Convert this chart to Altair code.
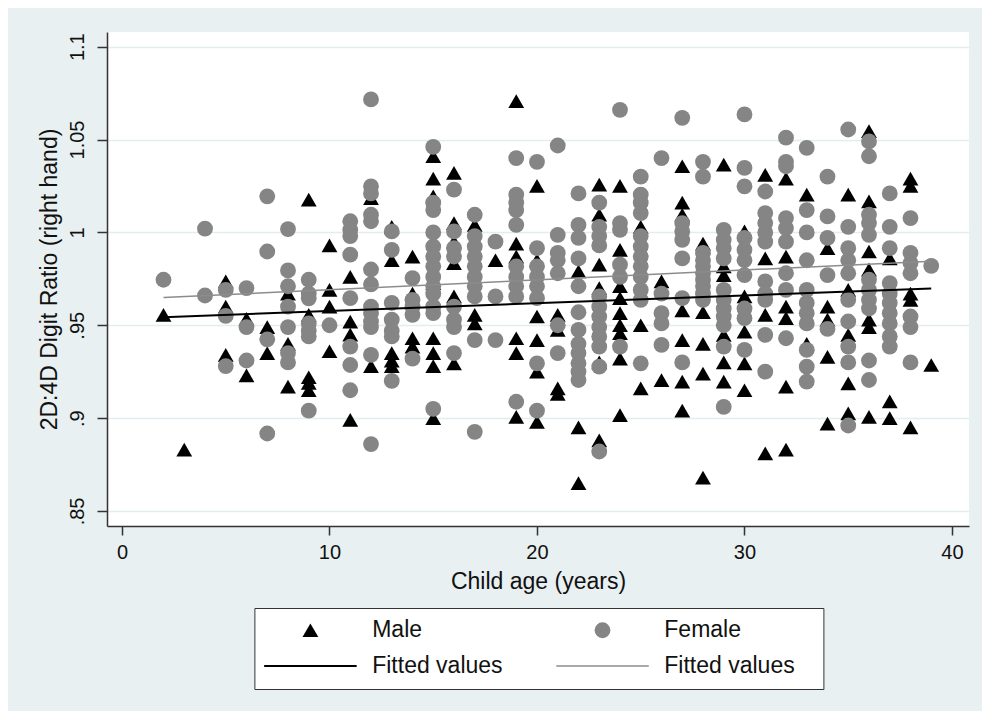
import altair as alt
import pandas as pd

# ---- data: 2D:4D ratio by child age ----
male_by_age = {
    2: [0.9556], 3: [0.883], 5: [0.9736, 0.960, 0.934], 6: [0.9535, 0.923],
    7: [0.949, 0.935], 8: [0.967, 0.940, 0.917],
    9: [1.0176, 0.9556, 0.922, 0.919, 0.915], 10: [0.993, 0.969, 0.960, 0.936],
    11: [0.976, 0.952, 0.945, 0.899], 12: [1.0185, 0.928],
    13: [1.003, 0.985, 0.935, 0.931, 0.928], 14: [0.987, 0.967, 0.943, 0.9385],
    15: [1.041, 1.029, 1.0194, 0.9727, 0.943, 0.935, 0.928, 0.900],
    16: [1.032, 1.005, 0.995, 0.9835, 0.9655, 0.9295], 17: [1.004, 0.9556, 0.951],
    18: [0.985], 19: [1.0707, 0.994, 0.987, 0.943, 0.935, 0.9007],
    20: [1.025, 0.985, 0.9547, 0.942, 0.925, 0.898], 21: [0.9556, 0.9475, 0.916, 0.913],
    22: [0.979, 0.895, 0.865], 23: [1.0257, 1.0095, 0.9826, 0.970, 0.930, 0.888],
    24: [1.025, 0.9906, 0.971, 0.9646, 0.9565, 0.950, 0.9457, 0.932, 0.9016],
    25: [1.003, 0.950, 0.916], 26: [0.9736, 0.9205],
    27: [1.0356, 1.016, 1.0095, 0.958, 0.942, 0.9196, 0.904],
    28: [0.994, 0.957, 0.940, 0.924, 0.868],
    29: [1.0365, 0.9817, 0.977, 0.9448, 0.930, 0.9196],
    30: [1.0005, 0.9655, 0.9466, 0.9295, 0.915], 31: [1.031, 0.986, 0.9556, 0.881],
    32: [1.029, 0.987, 0.960, 0.9538, 0.917, 0.883], 33: [1.0203, 0.940],
    34: [0.9915, 0.960, 0.953, 0.933, 0.897], 35: [1.0203, 0.969, 0.9448, 0.9187, 0.9025],
    36: [1.0545, 1.0167, 0.9897, 0.980, 0.953, 0.949, 0.9007], 37: [0.986, 0.909, 0.900],
    38: [1.029, 1.025, 0.967, 0.9637, 0.895], 39: [0.9286],
}
female_by_age = {
    2: [0.9745], 4: [1.002, 0.966], 5: [0.969, 0.955, 0.928], 6: [0.970, 0.949, 0.931],
    7: [1.0194, 0.9897, 0.9424, 0.8917],
    8: [1.0018, 0.9795, 0.971, 0.960, 0.949, 0.935, 0.930],
    9: [0.9745, 0.967, 0.9645, 0.951, 0.947, 0.944, 0.904], 10: [0.950],
    11: [1.006, 1.0014, 0.998, 0.988, 0.9646, 0.9385, 0.9286, 0.915],
    12: [1.0716, 1.0248, 1.021, 1.0095, 1.006, 0.980, 0.972, 0.960, 0.9565, 0.952, 0.949, 0.934, 0.886],
    13: [1.0005, 0.9906, 0.962, 0.953, 0.947, 0.944, 0.920],
    14: [0.9754, 0.9637, 0.960, 0.9556, 0.932],
    15: [1.046, 1.016, 1.012, 1.0, 0.9924, 0.987, 0.9817, 0.976, 0.971, 0.967, 0.960, 0.9565, 0.905],
    16: [1.023, 1.0005, 0.9915, 0.987, 0.960, 0.953, 0.949, 0.935],
    17: [1.0095, 0.998, 0.9924, 0.987, 0.9817, 0.976, 0.971, 0.9655, 0.942, 0.8926],
    18: [0.995, 0.9655, 0.942],
    19: [1.040, 1.0203, 1.016, 1.012, 1.004, 0.9817, 0.976, 0.971, 0.9655, 0.9088],
    20: [1.038, 0.9915, 0.9817, 0.976, 0.971, 0.9646, 0.9295, 0.904],
    21: [1.0468, 0.9987, 0.989, 0.985, 0.978, 0.950, 0.935],
    22: [1.021, 1.004, 0.997, 0.986, 0.971, 0.957, 0.9475, 0.940, 0.935, 0.9295, 0.925, 0.9205],
    23: [1.016, 1.003, 0.998, 0.993, 0.9655, 0.960, 0.9547, 0.949, 0.944, 0.9385, 0.9277, 0.882],
    24: [1.066, 1.005, 1.0014, 0.9826, 0.976, 0.9385],
    25: [1.030, 1.0203, 1.016, 1.0104, 0.998, 0.9924, 0.987, 0.9817, 0.976, 0.969, 0.9637, 0.9295],
    26: [1.040, 0.967, 0.9565, 0.951, 0.9394],
    27: [1.0617, 1.005, 1.0005, 0.996, 0.986, 0.9646, 0.930],
    28: [1.038, 1.030, 0.989, 0.985, 0.9817, 0.978, 0.9745, 0.971, 0.967, 0.9637],
    29: [1.0014, 0.996, 0.9915, 0.986, 0.969, 0.9637, 0.959, 0.9547, 0.950, 0.9385, 0.906],
    30: [1.0635, 1.0347, 1.0248, 0.997, 0.9906, 0.985, 0.977, 0.959, 0.9538, 0.9367],
    31: [1.022, 1.0104, 1.005, 1.0, 0.995, 0.9736, 0.967, 0.9637, 0.9448, 0.925],
    32: [1.051, 1.038, 1.0356, 1.0077, 1.0023, 0.995, 0.978, 0.969, 0.943],
    33: [1.0455, 1.012, 1.0, 0.985, 0.969, 0.962, 0.9565, 0.951, 0.9367, 0.9277, 0.9196],
    34: [1.030, 1.0086, 0.997, 0.977, 0.948],
    35: [1.0554, 1.003, 0.9915, 0.985, 0.978, 0.9637, 0.952, 0.9385, 0.930, 0.896],
    36: [1.049, 1.041, 1.0095, 1.005, 0.9987, 0.9745, 0.969, 0.9637, 0.959, 0.931, 0.9205],
    37: [1.021, 1.003, 0.9915, 0.9727, 0.967, 0.962, 0.9565, 0.951, 0.944, 0.9385],
    38: [1.0077, 0.989, 0.9835, 0.978, 0.9547, 0.949, 0.930],
    39: [0.982],
}
fit_age = [2, 39]
male_fit = [0.9543, 0.9698]
female_fit = [0.9649, 0.9845]

series = ["Male", "Female", "Fitted values", "Fitted values\u00a0"]
y_ticks = [0.85, 0.9, 0.95, 1.0, 1.05, 1.1]
x_ticks = [0, 10, 20, 30, 40]

FONT = "Liberation Sans"
rows = []
for a, vals in male_by_age.items():
    rows += [{"age": a, "ratio": v, "series": "Male"} for v in vals]
for a, vals in female_by_age.items():
    rows += [{"age": a, "ratio": v, "series": "Female"} for v in vals]
pts = pd.DataFrame(rows)
fit_m = pd.DataFrame({"age": fit_age, "ratio": male_fit})
fit_f = pd.DataFrame({"age": fit_age, "ratio": female_fit})

xs = alt.Scale(domain=[-0.723, 40.82], nice=False, zero=False)
ys = alt.Scale(domain=[0.8419, 1.1079], nice=False, zero=False)

xaxis = alt.Axis(values=x_ticks, grid=False, tickSize=9, tickWidth=1.5, tickColor="#333333",
                 domainColor="#333333", domainWidth=1.5, labelFont=FONT, labelFontSize=20,
                 labelColor="#111111", labelBaseline="middle", labelPadding=17.5, labelFlush=False,
                 title="Child age (years)", titleFont=FONT, titleFontSize=23, titleFontWeight="normal",
                 titleColor="#111111", titleY=55.5, titleBaseline="middle")
yaxis = alt.Axis(values=y_ticks, grid=True, gridColor="#e3edf0", gridWidth=1.5, tickSize=10,
                 tickWidth=1.5, tickColor="#333333", domainColor="#333333", domainWidth=1.5,
                 labelFont=FONT, labelFontSize=20, labelColor="#111111", labelAngle=270,
                 labelAlign="center", labelBaseline="middle", labelPadding=20, labelFlush=False,
                 labelExpr="datum.value < 1 ? slice(format(datum.value, '.2~f'), 1) : format(datum.value, '.2~f')",
                 title="2D:4D Digit Ratio (right hand)", titleFont=FONT, titleFontSize=23,
                 titleFontWeight="normal", titleColor="#111111", titleAngle=270, titleX=-58,
                 titleY=247, titleAlign="center", titleBaseline="middle")

line_black = "M-5.85,-0.127H5.85V0.127H-5.85Z"
line_grey = "M-5.85,-0.1H5.85V0.1H-5.85Z"
# a white spacer title on the right widens the frame like the reference box
legend = alt.Legend(title=".", titleOrient="right", titleColor="white", titleFontSize=10,
                    titlePadding=14.7,
                    orient="none", legendX=147.4, legendY=576, columns=2,
                    direction="horizontal",
                    padding=10.5, strokeColor="#333333", fillColor="white", symbolSize=250,
                    symbolStrokeWidth=0, symbolOpacity=1, symbolOffset=34.0, labelOffset=50.3,
                    columnPadding=53.1, rowPadding=12, labelFont=FONT, labelFontSize=23,
                    labelColor="#111111", labelLimit=400)

points = alt.Chart(pts).mark_point(filled=True, size=250, opacity=1, strokeWidth=0).encode(
    x=alt.X("age:Q", scale=xs, axis=xaxis),
    y=alt.Y("ratio:Q", scale=ys, axis=yaxis),
    shape=alt.Shape("series:N", sort=series, legend=legend,
                    scale=alt.Scale(domain=series, range=["triangle-up", "circle", line_black, line_grey])),
    color=alt.Color("series:N", sort=series, legend=legend,
                    scale=alt.Scale(domain=series, range=["#000000", "#858585", "#000000", "#8c8c8c"])),
)
lm = alt.Chart(fit_m).mark_line(color="#000000", strokeWidth=2).encode(x="age:Q", y="ratio:Q")
lf = alt.Chart(fit_f).mark_line(color="#8c8c8c", strokeWidth=1.5).encode(x="age:Q", y="ratio:Q")

chart = alt.layer(points, lm, lf).properties(
    width=862, height=494, background="#e8f0f2",
    padding={"left": 99, "top": 24, "right": 13, "bottom": 185},
    autosize=alt.AutoSizeParams(type="none"),
).configure_view(fill="white", stroke=None)

chart.save("out.html", embed_options={"renderer": "svg", "actions": False})
